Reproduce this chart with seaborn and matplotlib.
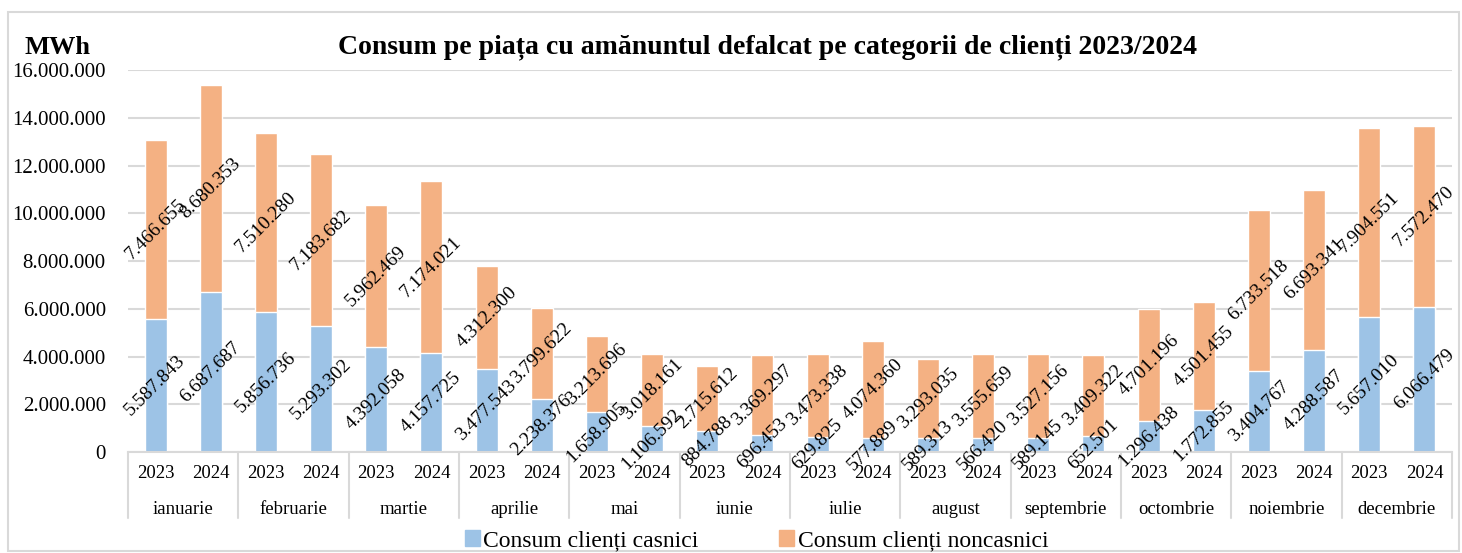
import numpy as np
import pandas as pd
import matplotlib
matplotlib.use("Agg")
import matplotlib.pyplot as plt
import matplotlib.patches as mpatches
import matplotlib.transforms as mtransforms
from matplotlib.ticker import FuncFormatter
import seaborn as sns

#### Data

luni = ["ianuarie", "februarie", "martie", "aprilie", "mai", "iunie",
        "iulie", "august", "septembrie", "octombrie", "noiembrie", "decembrie"]
ani = ["2023", "2024"]

casnici = [5587843, 6687687, 5856736, 5293302, 4392058, 4157725,
           3477543, 2238376, 1658905, 1106592, 884788, 696453,
           629825, 577889, 589313, 566420, 589145, 652501,
           1296438, 1772855, 3404767, 4288587, 5657010, 6066479]
noncasnici = [7466655, 8680353, 7510280, 7183682, 5962469, 7174021,
              4312300, 3799622, 3213696, 3018161, 2715612, 3369297,
              3473338, 4074360, 3293035, 3555659, 3527156, 3409322,
              4701196, 4501455, 6733518, 6693341, 7904551, 7572470]

df = pd.DataFrame({
    "luna": np.repeat(luni, 2),
    "an": ani * len(luni),
    "casnici": casnici,
    "noncasnici": noncasnici,
})
df["cheie"] = df["luna"] + " " + df["an"]
df["total"] = df["casnici"] + df["noncasnici"]
ordine = list(df["cheie"])

col_casnici = "#9DC3E6"
col_noncasnici = "#F4B183"
gri = "#D9D9D9"

def fmt(v):
    return f"{int(round(v)):,}".replace(",", ".")

#### Graphic

sns.set_style("white")
plt.rcParams["font.family"] = ["Liberation Serif", "DejaVu Serif"]
plt.rcParams["text.color"] = "black"
plt.rcParams["xtick.color"] = "black"
plt.rcParams["ytick.color"] = "black"

fig = plt.figure(figsize=(14.62, 5.53), dpi=100)
ax = fig.add_axes([128 / 1462, 101 / 553, 1324 / 1462, 382 / 553])

sns.barplot(data=df, x="cheie", y="total", order=ordine, color=col_noncasnici,
            saturation=1, width=0.4, errorbar=None, ax=ax)
sns.barplot(data=df, x="cheie", y="casnici", order=ordine, color=col_casnici,
            saturation=1, width=0.4, errorbar=None, ax=ax)

# etichete: casnici la mijlocul segmentului albastru, noncasnici la mijlocul celui portocaliu
bare_casnici = ax.containers[1]
for bara, c, n in zip(bare_casnici, df["casnici"], df["noncasnici"]):
    xc = bara.get_x() + bara.get_width() / 2
    ax.text(xc, c / 2, fmt(c), rotation=45, fontsize=14, ha="center",
            va="center", rotation_mode="anchor")
    ax.text(xc, c + n / 2, fmt(n), rotation=45, fontsize=14, ha="center",
            va="center", rotation_mode="anchor")

ax.set_ylim(0, 16000000)
ax.set_yticks(np.arange(0, 16000001, 2000000))
ax.yaxis.set_major_formatter(FuncFormatter(lambda v, p: fmt(v)))
ax.set_xlim(-0.5, len(ordine) - 0.5)
ax.set_xticks(range(len(ordine)))
ax.set_xticklabels(df["an"])
ax.tick_params(axis="x", length=0, pad=9, labelsize=13.5)
ax.tick_params(axis="y", length=0, pad=16, labelsize=15)
ax.set_xlabel("")
ax.set_ylabel("")
ax.grid(axis="y", color=gri, linewidth=1.5)
ax.set_axisbelow(True)
for s in ["top", "right", "left"]:
    ax.spines[s].set_visible(False)
ax.spines["bottom"].set_color(gri)
ax.spines["bottom"].set_linewidth(1.5)

trans = mtransforms.blended_transform_factory(ax.transData, ax.transAxes)
for i, luna in enumerate(luni):
    ax.text(2 * i + 0.5, -0.15, luna, transform=trans, ha="center",
            va="center", fontsize=13.5)
for x in np.arange(-0.5, len(ordine), 2):
    ax.plot([x, x], [0, -0.173], transform=trans, color=gri, lw=1.5,
            clip_on=False)

fig.text(0.525, 0.915, "Consum pe piața cu amănuntul defalcat pe categorii de clienți 2023/2024",
         ha="center", va="center", fontsize=20, fontweight="bold")
fig.text(0.017, 0.915, "MWh", ha="left", va="center", fontsize=19,
         fontweight="bold")

handles = [mpatches.Patch(color=col_casnici, label="Consum clienți casnici"),
           mpatches.Patch(color=col_noncasnici, label="Consum clienți noncasnici")]
fig.legend(handles=handles, loc="center", bbox_to_anchor=(0.5175, 0.022),
           ncol=2, frameon=False, fontsize=17, handlelength=0.65,
           handleheight=0.65, handletextpad=0.15, columnspacing=3.4)

fig.patches.append(mpatches.Rectangle((8 / 1462, 2 / 553), 1451 / 1462, 539 / 553,
                                      transform=fig.transFigure, fill=False,
                                      edgecolor=gri, linewidth=1.5))

plt.savefig("out.png", dpi=100)
